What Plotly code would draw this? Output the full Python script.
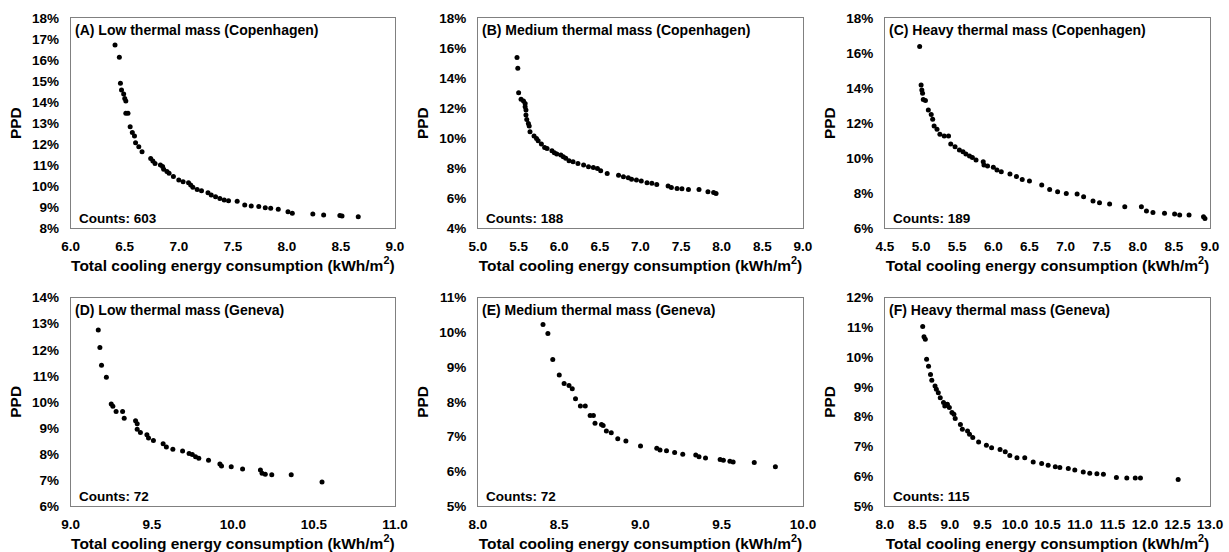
import plotly.graph_objects as go

# ---------------- data ----------------
titles = [
    "(A) Low thermal mass (Copenhagen)",
    "(B) Medium thermal mass (Copenhagen)",
    "(C) Heavy thermal mass (Copenhagen)",
    "(D) Low thermal mass (Geneva)",
    "(E) Medium thermal mass (Geneva)",
    "(F) Heavy thermal mass (Geneva)",
]
counts = ["Counts: 603", "Counts: 188", "Counts: 189", "Counts: 72", "Counts: 72", "Counts: 115"]

a_x = [6.41, 6.45, 6.46, 6.47, 6.49, 6.50, 6.51, 6.51, 6.53, 6.55, 6.57, 6.59, 6.60, 6.63, 6.66,
       6.74, 6.76, 6.78, 6.83, 6.85, 6.86, 6.89, 6.91, 6.95, 7.00, 7.04, 7.09, 7.11, 7.13, 7.17,
       7.21, 7.27, 7.30, 7.34, 7.38, 7.42, 7.46, 7.54, 7.61, 7.67, 7.74, 7.80, 7.85, 7.92, 8.01,
       8.05, 8.24, 8.34, 8.49, 8.51, 8.66]
a_y = [16.73, 16.14, 14.90, 14.58, 14.39, 14.18, 14.06, 13.47, 13.47, 12.83, 12.55, 12.39, 12.07, 11.88, 11.64,
       11.32, 11.20, 11.08, 11.00, 10.93, 10.80, 10.69, 10.61, 10.45, 10.29, 10.21, 10.16, 10.05, 9.94, 9.84,
       9.78, 9.68, 9.57, 9.49, 9.41, 9.34, 9.30, 9.27, 9.10, 9.05, 9.02, 8.97, 8.94, 8.89, 8.78,
       8.70, 8.67, 8.62, 8.60, 8.57, 8.54]

b_x = [5.48, 5.49, 5.50, 5.53, 5.56, 5.58, 5.58, 5.59, 5.59, 5.60, 5.62, 5.63, 5.64, 5.69, 5.72,
       5.74, 5.78, 5.82, 5.85, 5.91, 5.94, 5.97, 6.02, 6.05, 6.08, 6.12, 6.17, 6.23, 6.30, 6.36,
       6.42, 6.47, 6.51, 6.59, 6.73, 6.79, 6.85, 6.89, 6.95, 7.01, 7.08, 7.14, 7.20, 7.34, 7.38,
       7.45, 7.51, 7.59, 7.72, 7.83, 7.90, 7.93]
b_y = [15.39, 14.66, 13.03, 12.59, 12.48, 12.32, 12.10, 11.88, 11.54, 11.25, 10.98, 10.81, 10.43, 10.14, 9.98,
       9.83, 9.60, 9.38, 9.31, 9.16, 9.02, 8.94, 8.87, 8.76, 8.65, 8.49, 8.42, 8.31, 8.20, 8.09,
       8.04, 7.98, 7.82, 7.64, 7.53, 7.42, 7.35, 7.26, 7.20, 7.13, 7.02, 6.98, 6.91, 6.80, 6.71,
       6.64, 6.62, 6.57, 6.57, 6.42, 6.37, 6.31]

c_x = [4.98, 5.00, 5.01, 5.02, 5.03, 5.06, 5.10, 5.14, 5.16, 5.18, 5.22, 5.26, 5.32, 5.38, 5.41,
       5.47, 5.53, 5.58, 5.62, 5.67, 5.71, 5.76, 5.86, 5.87, 5.92, 6.00, 6.05, 6.11, 6.23, 6.32,
       6.40, 6.50, 6.67, 6.78, 6.89, 7.01, 7.16, 7.25, 7.38, 7.47, 7.61, 7.82, 8.05, 8.12, 8.21,
       8.37, 8.51, 8.58, 8.71, 8.91, 8.93]
c_y = [16.38, 14.18, 13.90, 13.71, 13.36, 13.29, 12.75, 12.50, 12.22, 11.84, 11.65, 11.36, 11.26, 11.26, 10.81,
       10.65, 10.46, 10.37, 10.23, 10.12, 10.04, 9.89, 9.79, 9.60, 9.55, 9.47, 9.32, 9.22, 9.09, 8.94,
       8.78, 8.69, 8.46, 8.21, 8.08, 7.98, 7.94, 7.79, 7.54, 7.45, 7.37, 7.22, 7.22, 6.97, 6.89,
       6.84, 6.80, 6.74, 6.74, 6.65, 6.55]

d_x = [9.17, 9.18, 9.19, 9.22, 9.25, 9.26, 9.28, 9.32, 9.33, 9.40, 9.41, 9.41, 9.43, 9.47, 9.48,
       9.51, 9.57, 9.59, 9.63, 9.69, 9.73, 9.75, 9.77, 9.79, 9.85, 9.92, 9.93, 9.99, 10.06, 10.17,
       10.18, 10.20, 10.24, 10.36, 10.55]
d_y = [12.76, 12.09, 11.41, 10.94, 9.92, 9.83, 9.63, 9.63, 9.37, 9.27, 9.16, 8.95, 8.82, 8.74, 8.61,
       8.52, 8.39, 8.27, 8.18, 8.11, 8.02, 7.98, 7.89, 7.83, 7.76, 7.61, 7.54, 7.51, 7.42, 7.38,
       7.26, 7.22, 7.20, 7.20, 6.92]

e_x = [8.40, 8.43, 8.46, 8.50, 8.53, 8.56, 8.58, 8.60, 8.63, 8.66, 8.69, 8.71, 8.72, 8.76, 8.77,
       8.79, 8.82, 8.86, 8.91, 9.00, 9.10, 9.12, 9.16, 9.21, 9.26, 9.34, 9.36, 9.40, 9.49, 9.51,
       9.55, 9.57, 9.70, 9.83]
e_y = [10.23, 9.97, 9.22, 8.77, 8.53, 8.47, 8.38, 8.09, 7.88, 7.88, 7.61, 7.61, 7.38, 7.35, 7.32,
       7.16, 7.11, 6.94, 6.87, 6.73, 6.66, 6.61, 6.59, 6.54, 6.49, 6.47, 6.42, 6.38, 6.34, 6.32,
       6.29, 6.27, 6.25, 6.13]

f_x = [8.58, 8.60, 8.62, 8.64, 8.67, 8.70, 8.72, 8.77, 8.79, 8.82, 8.85, 8.90, 8.92, 8.96, 8.99,
       9.03, 9.06, 9.08, 9.16, 9.19, 9.27, 9.30, 9.35, 9.44, 9.56, 9.64, 9.77, 9.85, 9.92, 10.03,
       10.15, 10.28, 10.41, 10.51, 10.62, 10.69, 10.82, 10.92, 11.05, 11.15, 11.26, 11.36, 11.56, 11.72, 11.85,
       11.93, 12.51]
f_y = [11.03, 10.69, 10.60, 9.93, 9.70, 9.42, 9.23, 9.03, 8.92, 8.81, 8.64, 8.48, 8.36, 8.42, 8.31,
       8.14, 8.08, 7.94, 7.74, 7.58, 7.52, 7.41, 7.30, 7.15, 7.04, 6.96, 6.90, 6.82, 6.70, 6.62,
       6.62, 6.48, 6.43, 6.37, 6.32, 6.29, 6.26, 6.21, 6.14, 6.10, 6.08, 6.07, 5.96, 5.94, 5.94,
       5.94, 5.89]

xs = [a_x, b_x, c_x, d_x, e_x, f_x]
ys = [a_y, b_y, c_y, d_y, e_y, f_y]

x_ranges = [[6.0, 9.0], [5.0, 9.0], [4.5, 9.0], [9.0, 11.0], [8.0, 10.0], [8.0, 13.0]]
x_dticks = [0.5, 0.5, 0.5, 0.5, 0.5, 0.5]
y_ranges = [[8, 18], [4, 18], [6, 18], [6, 14], [5, 11], [5, 12]]
y_dticks = [1, 2, 2, 1, 1, 1]

x_title = "Total cooling energy consumption (kWh/m<sup>2</sup>)"
y_title = "PPD"

# ---------------- layout geometry ----------------
W, H = 1229, 552
col_px = [(70.7, 395.0), (478.0, 803.0), (885.0, 1210.0)]
row_px = [(18.3, 228.0), (297.7, 506.0)]

FONT = "Arial, Liberation Sans, sans-serif"
fig = go.Figure()
layout = dict(
    width=W, height=H,
    margin=dict(l=0, r=0, t=0, b=0, autoexpand=False),
    paper_bgcolor="white", plot_bgcolor="white",
    showlegend=False,
    font=dict(family=FONT, color="black"),
    annotations=[],
)

for i in range(6):
    r, c = divmod(i, 3)
    xn = "x" if i == 0 else f"x{i+1}"
    yn = "y" if i == 0 else f"y{i+1}"
    xkey = "xaxis" if i == 0 else f"xaxis{i+1}"
    ykey = "yaxis" if i == 0 else f"yaxis{i+1}"
    x0, x1 = col_px[c]
    y0, y1 = row_px[r]
    fig.add_trace(go.Scatter(
        x=xs[i], y=ys[i], mode="markers", xaxis=xn, yaxis=yn,
        marker=dict(color="black", size=5, line=dict(width=0)),
        hoverinfo="x+y",
    ))
    layout[xkey] = dict(
        domain=[x0 / W, x1 / W], anchor=yn, automargin=False,
        range=x_ranges[i], dtick=x_dticks[i], tick0=x_ranges[i][0],
        tickformat=".1f", showgrid=False, zeroline=False,
        showline=True, mirror=True, linecolor="#808080", linewidth=1,
        ticks="", ticklabelstandoff=6,
        tickfont=dict(family=FONT, size=13.5, color="black", weight="bold"),
        title=dict(text=x_title, standoff=3,
                   font=dict(family=FONT, size=15.5, color="black", weight="bold")),
    )
    layout[ykey] = dict(
        domain=[1 - y1 / H, 1 - y0 / H], anchor=xn, automargin=False,
        range=y_ranges[i], dtick=y_dticks[i], tick0=y_ranges[i][0],
        ticksuffix="%", showgrid=False, zeroline=False,
        showline=True, mirror=True, linecolor="#808080", linewidth=1,
        ticks="", ticklabelstandoff=8,
        tickfont=dict(family=FONT, size=13.5, color="black", weight="bold"),
        title=dict(text=y_title, standoff=6,
                   font=dict(family=FONT, size=15.5, color="black", weight="bold")),
    )
    layout["annotations"].append(dict(
        text=f"<b>{titles[i]}</b>", xref=f"{xn} domain", yref=f"{yn} domain",
        x=0.006, y=0.99, xanchor="left", yanchor="top", showarrow=False,
        font=dict(family=FONT, size=14, color="black"),
    ))
    layout["annotations"].append(dict(
        text=f"<b>{counts[i]}</b>", xref=f"{xn} domain", yref=f"{yn} domain",
        x=0.018, y=0.0, xanchor="left", yanchor="bottom", showarrow=False,
        font=dict(family=FONT, size=13.5, color="black"),
    ))

fig.update_layout(**layout)
fig.write_html("out.html", config={"displayModeBar": False},
               post_script="document.body.style.margin='0px';")
